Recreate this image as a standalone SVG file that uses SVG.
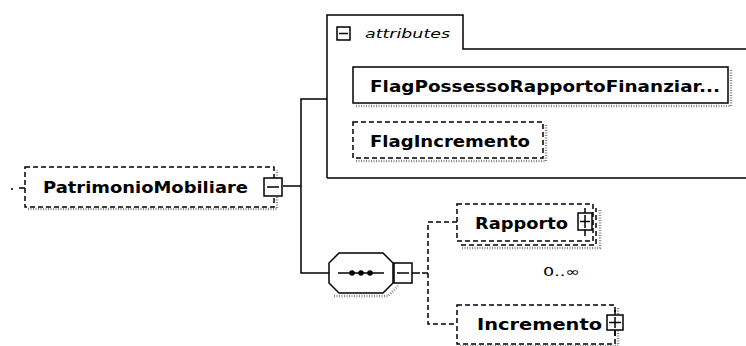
<svg xmlns="http://www.w3.org/2000/svg" width="746" height="346" viewBox="0 0 746 346">
<style>
.bg{fill:#fff}
.node{fill:#fff;stroke:#000;stroke-width:1.5}
.dash{stroke-dasharray:5,3}
.shadow{fill:none;stroke:#888;stroke-width:2.5;stroke-dasharray:1,1.5}
.lbl{font-family:"DejaVu Sans",Verdana,sans-serif;font-weight:bold;font-size:15px;fill:#000}
.it{font-family:"DejaVu Sans",Verdana,sans-serif;font-style:italic;font-size:13px;fill:#000}
.small{font-family:"DejaVu Sans",Verdana,sans-serif;font-size:12px;fill:#000}
.line{fill:none;stroke:#000;stroke-width:1.5}
.dline{fill:none;stroke:#000;stroke-width:1.5;stroke-dasharray:5,3}
.box{fill:#fff;stroke:#000;stroke-width:1.5}
</style>
<rect class="bg" width="746" height="346"/>

<g id="connectors">
  <circle cx="12" cy="189" r="1" fill="#000"/>
  <line class="line" x1="19" y1="188" x2="25" y2="188"/>
  <line class="line" x1="283" y1="186" x2="301" y2="186"/>
  <polyline class="line" points="327,99 301,99 301,273 329,273"/>
  <line class="line" x1="412" y1="273" x2="420" y2="273"/>
  <polyline class="dline" points="457,222 428,222 428,324 457,324"/>
  <line class="line" x1="422" y1="273" x2="428" y2="273"/>
</g>

<g id="PatrimonioMobiliare">
  <path class="shadow" d="M28,209 H277 V170"/>
  <rect class="node dash" x="25" y="167" width="249" height="40"/>
  <text class="lbl" x="43" y="193" textLength="205" lengthAdjust="spacingAndGlyphs">PatrimonioMobiliare</text>
  <rect class="box" x="264" y="178" width="18" height="18"/>
  <line class="line" x1="267" y1="187" x2="279" y2="187"/>
</g>

<g id="attributes">
  <path class="node" d="M327,178 V15 H463 V49 H746 M327,178 H746"/>
  <rect class="box" x="337" y="27" width="13" height="13"/>
  <line class="line" x1="339" y1="33.5" x2="348" y2="33.5"/>
  <text class="it" x="365" y="38" textLength="85" lengthAdjust="spacingAndGlyphs">attributes</text>
</g>

<g id="FlagPossessoRapportoFinanziario">
  <path class="shadow" d="M356,106 H731 V70"/>
  <rect class="node" x="353" y="67" width="375" height="36"/>
  <text class="lbl" x="370" y="92" textLength="350" lengthAdjust="spacingAndGlyphs">FlagPossessoRapportoFinanziar...</text>
</g>

<g id="FlagIncremento">
  <path class="shadow" d="M356,161 H546 V125"/>
  <rect class="node dash" x="353" y="122" width="190" height="36"/>
  <text class="lbl" x="370" y="147" textLength="160" lengthAdjust="spacingAndGlyphs">FlagIncremento</text>
</g>

<g id="sequence">
  <path class="shadow" d="M334,296 H388 L398,286"/>
  <path class="node" d="M339,253 H383 L393,263 V283 L383,293 H339 L329,283 V263 Z"/>
  <line class="line" x1="338" y1="273" x2="384" y2="273"/>
  <circle cx="352" cy="273" r="2.8" fill="#000"/>
  <circle cx="361" cy="273" r="2.8" fill="#000"/>
  <circle cx="370" cy="273" r="2.8" fill="#000"/>
  <rect class="box" x="394" y="263" width="18" height="20"/>
  <line class="line" x1="397" y1="273" x2="409" y2="273"/>
</g>

<g id="Rapporto">
  <path class="shadow" d="M462,248 H600 V210"/>
  <path class="dline" d="M461,245 H596 V208"/>
  <rect class="node dash" x="457" y="204" width="136" height="37"/>
  <text class="lbl" x="475" y="229" textLength="93" lengthAdjust="spacingAndGlyphs">Rapporto</text>
  <line class="line" x1="585" y1="208" x2="585" y2="236"/>
  <rect class="box" x="578" y="213" width="14" height="17"/>
  <line class="line" x1="580" y1="221.5" x2="590" y2="221.5"/>
  <line class="line" x1="585" y1="215" x2="585" y2="228"/>
  <text class="small" x="543" y="276" textLength="37" lengthAdjust="spacingAndGlyphs">0..∞</text>
</g>

<g id="Incremento">
  <path class="shadow" d="M460,346 H618 V308"/>
  <rect class="node dash" x="457" y="305" width="158" height="39"/>
  <text class="lbl" x="477" y="330" textLength="125" lengthAdjust="spacingAndGlyphs">Incremento</text>
  <line class="line" x1="615" y1="310" x2="615" y2="336"/>
  <rect class="box" x="607" y="315" width="16" height="15"/>
  <line class="line" x1="609" y1="322.5" x2="621" y2="322.5"/>
  <line class="line" x1="615" y1="317" x2="615" y2="328"/>
</g>
</svg>
